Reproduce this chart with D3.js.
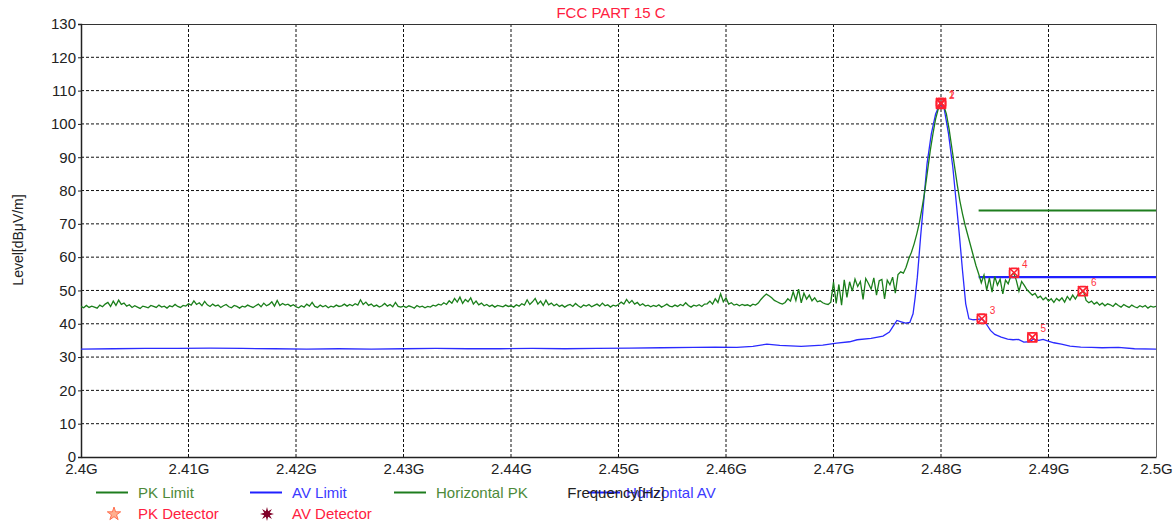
<!DOCTYPE html>
<html><head><meta charset="utf-8">
<script src="https://cdn.jsdelivr.net/npm/d3@7"></script>
<style>
body{margin:0;background:#fff;}
text{font-family:"Liberation Sans",Arial,sans-serif;}
</style></head>
<body><svg id="c" width="1173" height="524"></svg>
<script>
// ---------- DATA ----------
const title = "FCC PART 15 C";
const yLabel = "Level[dBμV/m]";
const xLabel = "Frequency[Hz]";
const xTicks = [2.40,2.41,2.42,2.43,2.44,2.45,2.46,2.47,2.48,2.49,2.50];
const xTickLabels = ["2.4G","2.41G","2.42G","2.43G","2.44G","2.45G","2.46G","2.47G","2.48G","2.49G","2.5G"];
const yTicks = [0,10,20,30,40,50,60,70,80,90,100,110,120,130];

// Horizontal PK sweep: start/stop in GHz, levels in dBμV/m (401 points)
const pkStart = 2.400, pkStop = 2.500;
const pkLevel = [
45.2,44.8,45.5,44.9,45.3,45.0,44.7,45.6,45.1,45.9, 46.4,45.2,46.8,45.5,47.1,45.8,46.2,45.3,45.7,44.9, 45.4,45.0,44.6,45.3,45.1,44.8,45.5,45.2,44.9,45.6, 45.0,45.3,44.7,45.4,45.1,45.8,45.2,44.9,45.5,45.3,
46.0,45.6,46.9,45.8,46.3,45.4,46.7,45.7,45.2,45.9, 45.3,45.6,44.9,45.4,45.8,45.1,44.8,45.5,45.2,44.7, 45.3,45.0,45.6,45.2,44.9,45.4,45.9,45.1,46.2,45.4, 45.8,46.6,45.3,47.0,45.5,46.1,45.6,45.9,45.3,45.7,
45.1,44.8,45.4,45.0,45.9,45.3,46.4,45.2,44.9,45.6, 45.1,45.5,44.8,45.3,45.0,45.6,45.2,45.4,45.9,45.3, 45.8,45.4,46.0,45.6,47.2,45.8,46.5,45.5,45.9,45.2, 45.6,45.0,45.4,46.1,45.3,45.8,45.1,46.4,45.2,45.0,
45.3,44.9,45.4,45.1,44.7,45.5,45.0,45.3,44.8,45.2, 45.0,45.6,45.3,45.9,45.6,46.3,45.8,46.9,46.2,47.6, 46.5,48.0,46.1,47.3,46.6,47.8,45.9,46.8,45.7,46.2, 45.4,45.8,45.2,45.6,45.0,45.5,45.3,45.1,45.6,45.2,
45.4,45.0,45.7,45.3,46.0,45.6,47.2,45.8,46.6,47.6, 45.9,46.8,45.5,47.1,45.7,46.2,45.4,45.9,45.2,45.6, 45.0,45.5,45.8,45.2,46.1,45.4,44.9,45.6,45.3,45.8, 45.1,45.5,45.9,45.3,46.2,45.4,45.7,45.0,45.6,45.3,
45.8,46.5,45.9,47.3,46.2,47.0,45.9,46.4,45.5,46.0, 45.3,45.6,45.1,45.5,45.2,45.7,45.0,45.4,45.9,45.3, 45.1,45.6,45.2,45.8,45.4,46.3,45.5,45.0,45.6,45.3, 45.7,45.2,45.9,46.0,46.8,45.9,47.5,46.4,49.0,46.6,
47.8,45.9,46.3,45.6,45.9,45.4,45.8,45.5,45.7,45.3, 45.9,45.6,46.2,47.3,48.2,48.9,48.4,47.8,47.0,46.6, 46.2,45.9,46.4,47.5,46.8,49.6,47.0,50.4,46.3,49.2, 47.4,48.6,46.9,47.8,46.6,46.9,46.3,46.0,45.8,46.5,
52.5,46.1,51.8,45.6,53.2,47.9,52.6,49.8,53.4,51.2, 52.7,47.3,53.6,52.1,50.4,53.8,48.6,52.9,53.3,47.5, 53.1,51.7,54.0,49.2,
54.8,55.6,55.2,57.0,
59.5,61.5,64.0,67.0,70.5,75.0,80.0,86.0,92.0,97.0,101.5,104.5,106.3,105.5,103.0,98.5,93.0,87.5,82.0,77.0,73.0,69.5,66.5,63.5,60.5,57.5,55.0,
52.3,54.6,50.1,53.8,49.5,54.2,51.6,53.4,49.0,53.1,52.0,54.4,55.3,53.1,49.8,52.7,51.5,50.2,
49.4,48.6,49.1,47.8,48.3,47.2,47.9,46.8,
47.5,46.4,47.6,46.9,47.8,46.5,48.2,47.1,48.6,47.4,48.8,49.3,49.8,47.0,
46.3,46.8,45.9,46.5,45.6,46.2,45.4,46.0,45.7,45.2, 46.1,45.5,45.0,45.8,45.3,44.9,45.6,45.1,44.8,45.4, 45.0,45.5,44.7,45.3,45.0,45.2
];

// Horizontal AV trace
const avFreq = [2.400,2.403,2.406,2.409,2.412,2.415,2.418,2.421,2.424,2.427,2.430,2.433,2.436,2.439,2.442,2.445,2.448,2.451,2.454,2.457,2.459,2.461,2.4625,2.4638,2.465,2.467,2.469,2.4703,2.4715,2.4722,2.4735,2.4746,2.4752,2.4756,2.4759,2.4763,2.4767,2.4771,2.4774,2.4776,2.4778,2.4781,2.4784,2.4787,2.4791,2.4795,2.4799,2.4803,2.4807,2.4811,2.4814,2.4817,2.4820,2.4823,2.4826,2.4830,2.4834,2.4838,2.4842,2.4846,2.4850,2.4856,2.4862,2.4867,2.4872,2.4877,2.4882,2.4886,2.4891,2.4895,2.4899,2.4905,2.4912,2.4920,2.4930,2.4940,2.4950,2.4965,2.4980,2.5000];
const avLevel = [32.4,32.5,32.6,32.6,32.7,32.6,32.5,32.4,32.5,32.4,32.5,32.6,32.5,32.5,32.6,32.5,32.6,32.7,32.8,32.9,33.0,32.9,33.2,33.9,33.5,33.2,33.6,34.2,34.6,35.2,35.6,36.3,37.5,39.5,41.0,40.6,40.2,40.4,43.0,48.0,54.0,66.0,77.0,88.0,97.0,103.0,106.0,104.5,97.0,87.0,77.0,67.0,56.0,46.0,41.5,41.2,41.3,41.5,40.0,38.0,36.8,36.0,35.4,35.2,35.3,34.5,34.6,35.4,35.0,35.3,34.9,34.3,33.9,33.3,33.0,32.9,32.8,32.9,32.5,32.4];

// Limits
const pkLimitFreq = [2.4835,2.5000], pkLimitLevel = [74,74];
const avLimitFreq = [2.4835,2.5000], avLimitLevel = [54,54];

// Markers
const markerId = [1,2,3,4,5,6];
const markerFreq = [2.4800,2.4800,2.4838,2.4868,2.4885,2.4932];
const markerLevel = [106.3,106.0,41.5,55.3,35.9,49.8];

// Legend
const legendRow1 = [
  {name:"PK Limit", color:"#1e7d1e", text:"#4d8a3a"},
  {name:"AV Limit", color:"#2020ff", text:"#3a3aff"},
  {name:"Horizontal PK", color:"#1e7d1e", text:"#4d8a3a"},
  {name:"Horizontal AV", color:"#2020ff", text:"#3a3aff"}
];
const legendRow2 = [
  {name:"PK Detector", color:"#ff7050", text:"#ff2040"},
  {name:"AV Detector", color:"#800028", text:"#ff2040"}
];

// ---------- DRAW ----------
const svg = d3.select("#c");
const L=81, R=1156, T=24, B=457;
const x = d3.scaleLinear().domain([2.40,2.50]).range([L,R]);
const y = d3.scaleLinear().domain([0,130]).range([B,T]);

// grid
const g = svg.append("g");
g.selectAll(".gy").data(yTicks.filter(v=>v>0&&v<130)).join("line")
  .attr("x1",L).attr("x2",R).attr("y1",d=>y(d)).attr("y2",d=>y(d))
  .attr("stroke","#111").attr("stroke-width",1).attr("stroke-dasharray","3,2");
g.selectAll(".gx").data(xTicks.filter(v=>v>2.40&&v<2.50)).join("line")
  .attr("y1",T).attr("y2",B).attr("x1",d=>x(d)).attr("x2",d=>x(d))
  .attr("stroke","#111").attr("stroke-width",1).attr("stroke-dasharray","3,2");

// frame
svg.append("line").attr("x1",L).attr("x2",R).attr("y1",T+0.5).attr("y2",T+0.5).attr("stroke","#333");
svg.append("line").attr("x1",R+0.5).attr("x2",R+0.5).attr("y1",T).attr("y2",B).attr("stroke","#666");

// axes
const yAxis = d3.axisLeft(y).tickValues(yTicks).tickSize(3).tickFormat(d3.format("d"));
const ya = svg.append("g").attr("transform",`translate(${L},0)`).call(yAxis);
ya.select(".domain").attr("stroke","#222").attr("stroke-width",1.5);
ya.selectAll("text").attr("font-size",15).attr("fill","#222").attr("x",-5)
  .attr("font-family","Liberation Sans, Arial, sans-serif");
ya.selectAll(".tick line").attr("stroke","#222");

const xAxis = d3.axisBottom(x).tickValues(xTicks).tickSize(0).tickFormat((d,i)=>xTickLabels[i]);
const xa = svg.append("g").attr("transform",`translate(0,${B})`).call(xAxis);
xa.select(".domain").attr("stroke","#222").attr("stroke-width",1.5);
xa.selectAll("text").attr("font-size",15).attr("fill","#222").attr("dy","0.95em")
  .attr("font-family","Liberation Sans, Arial, sans-serif");

// title
svg.append("text").attr("x",611).attr("y",18).attr("text-anchor","middle")
  .attr("font-size",15).attr("fill","#ff2040").text(title);
// y label
svg.append("text").attr("transform","translate(23,240) rotate(-90)").attr("text-anchor","middle")
  .attr("font-size",14).attr("fill","#222").text(yLabel);

// traces
svg.append("clipPath").attr("id","pc").append("rect")
  .attr("x",L).attr("y",T).attr("width",R-L).attr("height",B-T);
const pg = svg.append("g").attr("clip-path","url(#pc)");
const line = d3.line().x(d=>x(d[0])).y(d=>y(d[1]));
const pkStep = (pkStop-pkStart)/(pkLevel.length-1);
const pkData = pkLevel.map((v,i)=>[pkStart+i*pkStep, v]);
const avData = avFreq.map((f,i)=>[f, avLevel[i]]);

pg.append("path").datum(pkLimitFreq.map((f,i)=>[f,pkLimitLevel[i]])).attr("d",line)
  .attr("fill","none").attr("stroke","#1e7d1e").attr("stroke-width",2.2);
pg.append("path").datum(avLimitFreq.map((f,i)=>[f,avLimitLevel[i]])).attr("d",line)
  .attr("fill","none").attr("stroke","#2020ff").attr("stroke-width",2.2);
pg.append("path").datum(avData).attr("d",line)
  .attr("fill","none").attr("stroke","#2a2aff").attr("stroke-width",1.3);
pg.append("path").datum(pkData).attr("d",line)
  .attr("fill","none").attr("stroke","#1b7f1b").attr("stroke-width",1.3);

// markers
const mk = markerId.map((id,i)=>({id, f:markerFreq[i], l:markerLevel[i]}));
const mg = svg.append("g");
mk.forEach(m=>{
  const cx=x(m.f), cy=y(m.l);
  const s=mg.append("g").attr("transform",`translate(${cx},${cy})`);
  s.append("rect").attr("x",-4.5).attr("y",-4.5).attr("width",9).attr("height",9)
    .attr("fill","none").attr("stroke","#ff2030").attr("stroke-width",1.8).attr("rx",2);
  s.append("path").attr("d","M-5,-5L5,5M-5,5L5,-5").attr("stroke","#ff2030").attr("stroke-width",1.6);
  mg.append("text").attr("x",cx+8).attr("y",cy-5).attr("font-size",10).attr("fill","#ff3040").text(m.id);
});

// legend
const lx1 = [96,250,394,588], tx1=[138,292,436,626];
legendRow1.forEach((d,i)=>{
  svg.append("line").attr("x1",lx1[i]).attr("x2",lx1[i]+32).attr("y1",492.5).attr("y2",492.5)
    .attr("stroke",d.color).attr("stroke-width",2);
  svg.append("text").attr("x",tx1[i]).attr("y",498).attr("font-size",15).attr("fill",d.text).text(d.name);
});
// x axis title overlapping legend (as in the reference)
svg.append("text").attr("x",616).attr("y",498).attr("text-anchor","middle")
  .attr("font-size",15).attr("fill","#222").text(xLabel);

const sym1 = d3.symbol().type(d3.symbolStar).size(55);
svg.append("path").attr("d",sym1()).attr("transform","translate(114,514)")
  .attr("fill","#ffb090").attr("stroke",legendRow2[0].color).attr("stroke-width",1);
const burstR = [7,3,7,3,7,3,7,3,7,3,7,3,7,3,7,3];
const burst = burstR.map((r,k)=>[r*Math.sin(k*Math.PI/8), -r*Math.cos(k*Math.PI/8)]);
svg.append("path").attr("d","M"+burst.join("L")+"Z").attr("transform","translate(267,514)")
  .attr("fill",legendRow2[1].color);
const tx2=[138,292];
legendRow2.forEach((d,i)=>{
  svg.append("text").attr("x",tx2[i]).attr("y",519).attr("font-size",15).attr("fill",d.text).text(d.name);
});
</script></body></html>
